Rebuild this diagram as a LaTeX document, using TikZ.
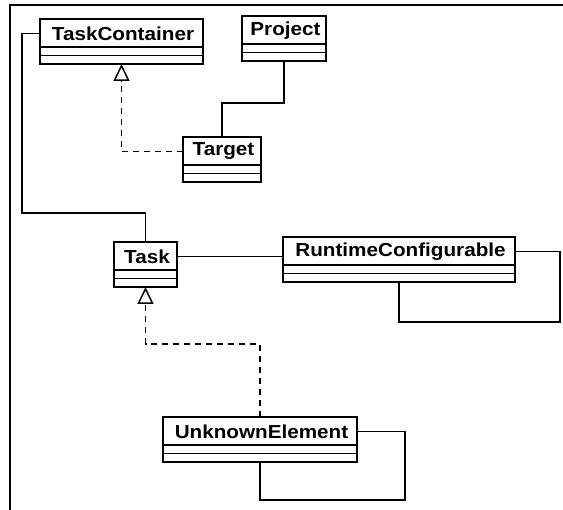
\documentclass[tikz,border=0pt]{standalone}
\usepackage{fontspec}
\newfontfamily\clsfont[FakeStretch=1.1]{Liberation Sans}
\usetikzlibrary{arrows.meta}
\tikzset{
  clsbox/.style={draw=black, line width=1.6pt, fill=white, minimum height=45pt, inner sep=0pt, outer sep=0pt},
  clstitle/.style={font=\clsfont\fontsize{18.8}{20}\selectfont\bfseries, inner sep=0pt},
  clsline/.style={draw=black, line width=1.6pt},
  conn/.style={draw=black, line width=1.5pt},
  real/.style={conn, dash pattern=on 6pt off 5pt, -{Triangle[open, length=17pt, width=16pt, line width=1.5pt]}},
  frame/.style={draw=black, line width=2.2pt}
}
\newcommand\umlclass[5]{%
  \node[clsbox, minimum width=#4, anchor=north west] (#1) at (#2,#3) {};
  \path (#1.north) ++(1.5,14.5) node[clstitle] (#1t) {#5};
  \draw[clsline] (#1.north west) ++(0,28) -- ++(#4,0);
  \draw[clsline] (#1.north west) ++(0,36.5) -- ++(#4,0);
}
\begin{document}
\begin{tikzpicture}[x=1pt, y=-1pt]
\useasboundingbox (0,0) rectangle (563,510);
\draw[frame] (10,510) -- (10,5) -- (563,5);

\umlclass{tc}{40}{19}{163}{TaskContainer}
\umlclass{proj}{242}{16}{84}{Project}
\umlclass{tgt}{183}{137}{78}{Target}
\umlclass{task}{114}{242}{63}{Task}
\umlclass{rc}{283}{237}{232}{RuntimeConfigurable}
\umlclass{ue}{163}{417}{194}{UnknownElement}

\draw[conn] (tc.west |- tct) -| (22,213) -| (task.north);
\draw[conn] (proj.south) -- ++(0,42) -| (tgt.north);
\draw[real] (tgt.west |- tgtt) -| (tc.south);
\draw[conn] (task.east |- taskt) -- (rc.west |- taskt);
\draw[conn] (rc.east |- rct) -| (560,322) -| (rc.south);
\draw[real] (ue.north) -- ++(0,-73) -| (task.south);
\draw[conn] (ue.east |- uet) -| (405,500) -| (ue.south);
\end{tikzpicture}
\end{document}
